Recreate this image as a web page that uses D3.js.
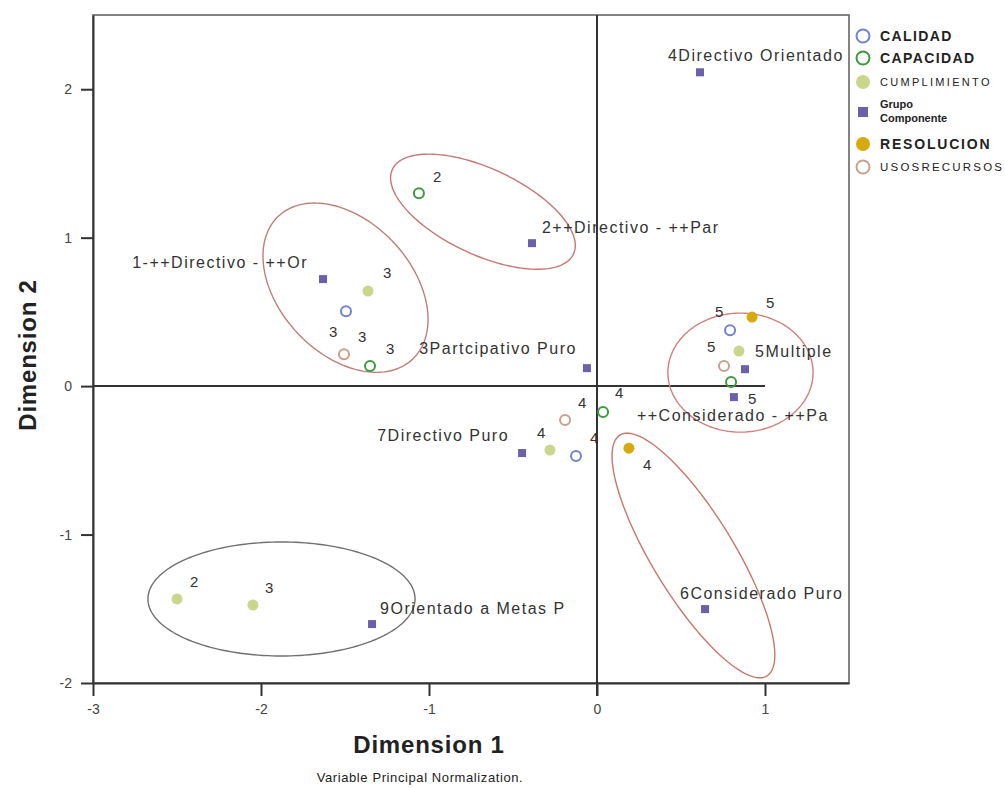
<!DOCTYPE html>
<html>
<head>
<meta charset="utf-8">
<script src="https://d3js.org/d3.v7.min.js"></script>
<style>
  body { margin: 0; background: #fff; }
  text { font-family: "Liberation Sans", Arial, sans-serif; }
</style>
</head>
<body>
<div id="chart"></div>
<script>
// legend order
const seriesNames = ["CALIDAD", "CAPACIDAD", "CUMPLIMIENTO", "Grupo Componente", "RESOLUCION", "USOSRECURSOS"];

// category points: Dimension 1, Dimension 2, label
const calidadX = [-1.494, -0.125, 0.792];
const calidadY = [0.505, -0.471, 0.377];
const calidadLab = ["3", "4", "5"];

const capacidadX = [-1.060, -1.351, 0.036, 0.798];
const capacidadY = [1.300, 0.135, -0.175, 0.027];
const capacidadLab = ["2", "3", "4", "5"];

const cumplimientoX = [-2.500, -2.048, -1.363, -0.280, 0.845];
const cumplimientoY = [-1.434, -1.475, 0.640, -0.431, 0.236];
const cumplimientoLab = ["2", "3", "3", "4", ""];

const grupoX = [-1.631, -0.387, -0.060, 0.613, 0.881, 0.643, -0.446, 0.815, -1.339];
const grupoY = [0.721, 0.963, 0.121, 2.114, 0.114, -1.502, -0.451, -0.074, -1.603];
const grupoLab = ["1-++Directivo - ++Or", "2++Directivo - ++Par", "3Partcipativo Puro",
  "4Directivo Orientado", "5Multiple", "6Considerado Puro", "7Directivo Puro",
  "++Considerado - ++Pa", "9Orientado a Metas P"];

const resolucionX = [0.190, 0.923];
const resolucionY = [-0.418, 0.465];
const resolucionLab = ["4", "5"];

const usosX = [-1.506, -0.190, 0.756];
const usosY = [0.215, -0.229, 0.135];
const usosLab = ["3", "4", "5"];

// hand drawn ellipses: centre and two semi-axis vectors (data units)
const ellCentre = [[-1.497, 0.663], [-0.679, 1.175], [0.854, 0.091], [0.574, -1.141], [-1.878, -1.434]];
const ellAxisA = [[0.398, -0.483], [0.539, -0.285], [0.432, 0], [0.4375, -0.811], [0.795, 0]];
const ellAxisB = [[-0.288, -0.303], [-0.108, -0.263], [0, -0.401], [-0.208, -0.144], [0, -0.384]];

const xTicks = [-3, -2, -1, 0, 1];
const yTicks = [-2, -1, 0, 1, 2];

// ---- layout / style ----
const W = 1005, H = 788;
const plot = {left: 93, right: 849, top: 15, bottom: 683};
const colors = {
  "CALIDAD": "#7482cc", "CAPACIDAD": "#3c9a3c", "CUMPLIMIENTO": "#c9d68c",
  "Grupo Componente": "#6a60ac", "RESOLUCION": "#d6aa0c", "USOSRECURSOS": "#c9a08c"
};
const ellColors = ["#bf7f78", "#c47872", "#d0807c", "#c8786a", "#707070"];

// label nudges in px [dx, dy, anchor]
const nudge = {
  "CALIDAD": [[-17, 21], [14, -18], [-15, -18]],
  "CAPACIDAD": [[14, -16], [16, -17], [12, -19], [17, 17]],
  "CUMPLIMIENTO": [[13, -17], [12, -17], [15, -18], [-13, -17], [0, 0]],
  "RESOLUCION": [[14, 17], [14, -14]],
  "USOSRECURSOS": [[14, -17], [13, -17], [-17, -19]],
  "Grupo Componente": [[-15, -17, "end"], [10, -16], [-10, -20, "end"], [-32, -17], [10, -18],
    [-25, -16], [-13, -18, "end"], [-97, 18], [8, -16]]
};

const svg = d3.select("#chart").append("svg")
  .attr("width", W).attr("height", H);

const x = d3.scaleLinear().domain([-3, 1.5]).range([plot.left, plot.right]);
const y = d3.scaleLinear().domain([-2, 2.5]).range([plot.bottom, plot.top]);

// frame
svg.append("rect")
  .attr("x", plot.left).attr("y", plot.top)
  .attr("width", plot.right - plot.left).attr("height", plot.bottom - plot.top)
  .attr("fill", "none").attr("stroke", "#666").attr("stroke-width", 1.6);

// axes (plain hyphen for negatives, as in the original)
const fmt = d => String(d);
const xAxis = svg.append("g")
  .attr("transform", `translate(0,${plot.bottom})`)
  .call(d3.axisBottom(x).tickValues(xTicks).tickSize(13).tickSizeOuter(0).tickPadding(8).tickFormat(fmt));
const yAxis = svg.append("g")
  .attr("transform", `translate(${plot.left},0)`)
  .call(d3.axisLeft(y).tickValues(yTicks).tickSize(12).tickSizeOuter(0).tickPadding(9).tickFormat(fmt));
[xAxis, yAxis].forEach(g => {
  g.select(".domain").attr("stroke", "#333").attr("stroke-width", 2);
  g.selectAll(".tick line").attr("stroke", "#333").attr("stroke-width", 2);
  g.selectAll(".tick text").attr("fill", "#444").attr("font-size", 14)
    .attr("font-family", "Liberation Sans, Arial, sans-serif");
});

// reference lines through the origin
svg.append("line")
  .attr("x1", x(-3)).attr("x2", x(1)).attr("y1", y(0)).attr("y2", y(0))
  .attr("stroke", "#333").attr("stroke-width", 2);
svg.append("line")
  .attr("x1", x(0)).attr("x2", x(0)).attr("y1", y(2.5)).attr("y2", y(-2) + 13)
  .attr("stroke", "#333").attr("stroke-width", 2);

// ellipses
const ellLine = d3.line().x(d => x(d[0])).y(d => y(d[1])).curve(d3.curveLinearClosed);
ellCentre.forEach((c, i) => {
  const a = ellAxisA[i], b = ellAxisB[i];
  const pts = d3.range(0, 2 * Math.PI, Math.PI / 90).map(t =>
    [c[0] + a[0] * Math.cos(t) + b[0] * Math.sin(t), c[1] + a[1] * Math.cos(t) + b[1] * Math.sin(t)]);
  svg.append("path").attr("d", ellLine(pts))
    .attr("fill", "none").attr("stroke", ellColors[i]).attr("stroke-width", 1.4);
});

// build series
const series = [
  {name: "CALIDAD", xs: calidadX, ys: calidadY, labs: calidadLab, shape: "open"},
  {name: "CAPACIDAD", xs: capacidadX, ys: capacidadY, labs: capacidadLab, shape: "open"},
  {name: "CUMPLIMIENTO", xs: cumplimientoX, ys: cumplimientoY, labs: cumplimientoLab, shape: "fill"},
  {name: "Grupo Componente", xs: grupoX, ys: grupoY, labs: grupoLab, shape: "square"},
  {name: "RESOLUCION", xs: resolucionX, ys: resolucionY, labs: resolucionLab, shape: "fill"},
  {name: "USOSRECURSOS", xs: usosX, ys: usosY, labs: usosLab, shape: "open"}
];

function drawMarker(g, shape, color, cx, cy, big) {
  const r = big ? 6.5 : 5;
  if (shape === "square") {
    const s = big ? 10 : 8;
    g.append("rect").attr("x", cx - s / 2).attr("y", cy - s / 2)
      .attr("width", s).attr("height", s).attr("fill", color);
  } else if (shape === "open") {
    g.append("circle").attr("cx", cx).attr("cy", cy).attr("r", r)
      .attr("fill", "none").attr("stroke", color).attr("stroke-width", 2);
  } else {
    g.append("circle").attr("cx", cx).attr("cy", cy).attr("r", r + 0.5).attr("fill", color);
  }
}

const marks = svg.append("g");
const labels = svg.append("g");
series.forEach(s => {
  s.xs.forEach((v, i) => {
    const px = x(v), py = y(s.ys[i]);
    drawMarker(marks, s.shape, colors[s.name], px, py, false);
    if (!s.labs[i]) return;
    const n = nudge[s.name][i];
    const isText = s.name === "Grupo Componente";
    labels.append("text")
      .attr("x", px + n[0]).attr("y", py + n[1])
      .attr("dy", "0.35em")
      .attr("text-anchor", n[2] || "start")
      .attr("font-size", isText ? 16 : 15)
      .attr("letter-spacing", isText ? 1.5 : 0)
      .attr("fill", "#333")
      .text(s.labs[i]);
  });
});

// legend
const legendY = [36, 58, 82, 112, 144, 167];
const legendFont = [
  {size: 14, weight: "bold", ls: 1.4}, {size: 14, weight: "bold", ls: 1.4},
  {size: 11, weight: "normal", ls: 2.3}, {size: 11, weight: "bold", ls: 0},
  {size: 14, weight: "bold", ls: 1.8}, {size: 11.5, weight: "normal", ls: 2.2}
];
const legend = svg.append("g");
series.forEach((s, i) => {
  drawMarker(legend, s.shape, colors[s.name], 863, legendY[i], true);
  const t = legend.append("text")
    .attr("x", 880).attr("y", legendY[i])
    .attr("font-size", legendFont[i].size).attr("font-weight", legendFont[i].weight)
    .attr("letter-spacing", legendFont[i].ls).attr("fill", "#222");
  if (s.name === "Grupo Componente") {
    t.append("tspan").attr("x", 880).attr("dy", "-0.35em").text("Grupo");
    t.append("tspan").attr("x", 880).attr("dy", "1.3em").text("Componente");
  } else {
    t.attr("dy", "0.35em").text(s.name);
  }
});

// axis titles
svg.append("text")
  .attr("x", 429).attr("y", 753)
  .attr("text-anchor", "middle").attr("font-size", 24).attr("font-weight", "bold")
  .attr("letter-spacing", 0.8).attr("fill", "#222")
  .text("Dimension 1");
svg.append("text")
  .attr("transform", "translate(36,355) rotate(-90)")
  .attr("text-anchor", "middle").attr("font-size", 24).attr("font-weight", "bold")
  .attr("letter-spacing", 0.8).attr("fill", "#222")
  .text("Dimension 2");
svg.append("text")
  .attr("x", 420).attr("y", 782)
  .attr("text-anchor", "middle").attr("font-size", 13).attr("letter-spacing", 0.6).attr("fill", "#222")
  .text("Variable Principal Normalization.");
</script>
</body>
</html>
